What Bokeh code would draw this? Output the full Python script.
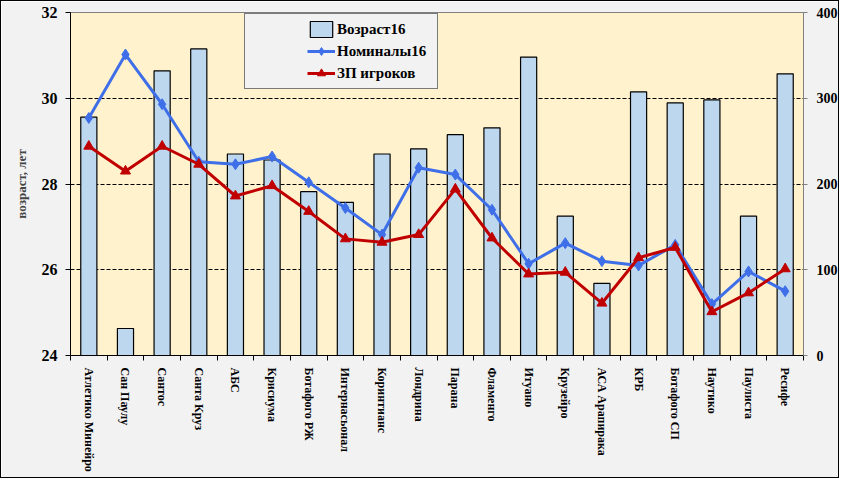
from bokeh.plotting import figure
from bokeh.models import (Range1d, LinearAxis, FixedTicker, Legend, LegendItem)
from bokeh.embed import file_html
from bokeh.resources import INLINE

teams = ["Атлетико  Минейро", "Сан  Паулу", "Сантос", "Санта  Круз", "АБС", "Крисиума",
         "Ботафого  РЖ", "Интернасьонал", "Коринтианс", "Лондрина", "Парана", "Фламенго",
         "Итуано", "Крузейро", "АСА  Арапирака", "КРБ", "Ботафого  СП", "Наутико",
         "Паулиста", "Ресифе"]
age16 = [29.56, 24.63, 30.64, 31.15, 28.70, 28.56, 27.82, 27.57, 28.70, 28.82,
         29.15, 29.31, 30.96, 27.25, 25.68, 30.15, 29.89, 29.96, 27.25, 30.57]
nominal16 = [277, 351, 293, 226, 223, 232, 202, 172, 141, 219,
             211, 170, 107, 131, 110, 105, 129, 60, 98, 75]
salary = [244, 215, 244, 223, 186, 198, 168, 136, 132, 141,
          194, 137, 95, 97, 61, 114, 126, 51, 73, 101]
series_names = ["Возраст16", "Номиналы16", "ЗП игроков"]
left_ticks = [24, 26, 28, 30, 32]
right_ticks = [0, 100, 200, 300, 400]

n = len(teams)
centers = [i + 0.5 for i in range(n)]
FONT = "Liberation Serif"

p = figure(width=839, height=478, output_backend="svg", toolbar_location=None,
           x_range=Range1d(0, n), y_range=Range1d(24, 32),
           min_border_left=69, min_border_right=35, min_border_top=11, min_border_bottom=124)
p.styles = {"border": "1px solid black"}
p.background_fill_color = "#FFF2CC"
p.border_fill_color = "#F2F2F2"
p.outline_line_color = "#808080"

p.extra_y_ranges = {"right": Range1d(0, 400)}

# grid
p.xgrid.visible = False
p.ygrid.ticker = FixedTicker(ticks=[26, 28, 30])
p.ygrid.grid_line_color = "black"
p.ygrid.grid_line_dash = "4 2"
p.ygrid.grid_line_width = 1

bars = p.vbar(x=centers, top=age16, bottom=24, width=0.44,
              fill_color="#BDD7EE", line_color="black", line_width=1.2)
l1 = p.line(centers, nominal16, y_range_name="right", line_color="#3F6FE8", line_width=3)
m1 = p.scatter(centers, nominal16, y_range_name="right", marker="diamond", size=11,
               fill_color="#3F6FE8", line_color="#3F6FE8")
l2 = p.line(centers, salary, y_range_name="right", line_color="#C00000", line_width=3)
m2 = p.scatter(centers, salary, y_range_name="right", marker="triangle", size=10,
               fill_color="#C00000", line_color="#C00000")

# x axis
xa = p.xaxis[0]
xa.ticker = FixedTicker(ticks=centers, minor_ticks=list(range(n + 1)))
xa.major_label_overrides = {c: t for c, t in zip(centers, teams)}
xa.major_label_orientation = "vertical"
xa.major_tick_out = 0
xa.major_tick_in = 0
xa.minor_tick_out = 5
xa.minor_tick_in = 0
xa.minor_tick_line_color = "black"
xa.axis_line_color = "black"
xa.major_label_text_font = FONT
xa.major_label_text_font_style = "bold"
xa.major_label_text_font_size = "12px"
xa.major_label_text_color = "black"
xa.major_label_standoff = 7

# left axis
ya = p.yaxis[0]
ya.ticker = FixedTicker(ticks=left_ticks)
ya.axis_label = "возраст, лет"
ya.axis_label_text_font = FONT
ya.axis_label_text_font_style = "bold"
ya.axis_label_text_font_size = "13px"
ya.axis_label_standoff = 10
ya.major_label_text_font = FONT
ya.major_label_text_font_style = "bold"
ya.major_label_text_font_size = "16px"
ya.major_label_text_color = "black"
ya.axis_line_color = "black"
ya.major_tick_out = 5
ya.major_tick_in = 0
ya.major_tick_line_color = "black"
ya.minor_tick_line_color = None
ya.major_label_standoff = 8

# right axis
ra = LinearAxis(y_range_name="right", ticker=FixedTicker(ticks=right_ticks))
ra.major_label_text_font = FONT
ra.major_label_text_font_style = "bold"
ra.major_label_text_font_size = "14px"
ra.major_label_text_color = "black"
ra.axis_line_color = "#808080"
ra.major_tick_line_color = "#808080"
ra.major_tick_out = 4
ra.major_tick_in = 0
ra.minor_tick_line_color = None
ra.major_label_standoff = 9
p.add_layout(ra, "right")

legend = Legend(items=[
    LegendItem(label=series_names[0], renderers=[bars]),
    LegendItem(label=series_names[1], renderers=[l1, m1]),
    LegendItem(label=series_names[2], renderers=[l2, m2]),
], location=(174, 266))
legend.title = "\u00a0"
legend.title_location = "left"
legend.title_text_font_size = "10px"
legend.title_standoff = 46
legend.background_fill_color = "#F2F2F2"
legend.background_fill_alpha = 1
legend.border_line_color = "black"
legend.border_line_width = 1
legend.label_text_font = FONT
legend.label_text_font_style = "bold"
legend.label_text_font_size = "15px"
legend.label_text_color = "black"
legend.padding = 5
legend.margin = 0
legend.spacing = 2
legend.glyph_width = 28
legend.glyph_height = 20
legend.label_height = 20
legend.label_standoff = 2
legend.label_width = 95
p.add_layout(legend)

open("out.html", "w").write(file_html(p, INLINE))
